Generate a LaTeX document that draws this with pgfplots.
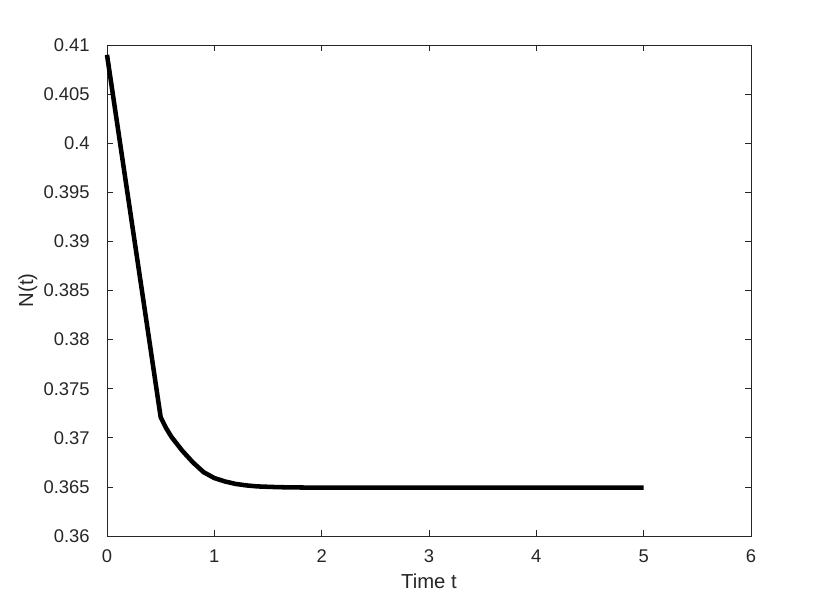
\documentclass[border=0pt]{standalone}
\usepackage{pgfplots}
\pgfplotsset{compat=1.18}
\usepackage{fontspec}
\setmainfont{Liberation Sans}
\definecolor{axgray}{gray}{0.15}
\begin{document}
\begin{tikzpicture}[x=1pt,y=1pt]
\begin{axis}[
  scale only axis,
  width=483pt, height=368.25pt,
  xmin=0, xmax=6, ymin=0.36, ymax=0.41,
  xtick={0,1,2,3,4,5,6},
  ytick={0.36,0.365,0.37,0.375,0.38,0.385,0.39,0.395,0.4,0.405,0.41},
  scaled y ticks=false,
  /pgf/number format/.cd, fixed, precision=3, assume math mode=true,
  /pgfplots/.cd,
  tick align=inside,
  major tick length=4.5pt,
  axis line style={axgray, line width=0.5pt},
  tick style={axgray, line width=0.5pt},
  ticklabel style={text=axgray, font=\fontsize{13.8pt}{16pt}\selectfont},
  yticklabel style={xshift=-9.5pt},
  xticklabel style={yshift=-6.5pt},
  label style={text=axgray, font=\fontsize{15.2pt}{17pt}\selectfont},
  xlabel={Time t},
  ylabel={N(t)},
  xlabel style={at={(axis description cs:0.5,0)}, anchor=base, yshift=-39pt},
  ylabel style={at={(axis description cs:0,0.5)}, anchor=center, yshift=59.25pt},
  clip=false,
]
\addplot[black, line width=3.4pt, line join=round] coordinates {
(0,0.4090) (0.5,0.3721) (0.55,0.3710) (0.6,0.3701) (0.7,0.3687) (0.8,0.3675)
(0.9,0.3665) (1.0,0.3659) (1.1,0.36555) (1.2,0.3653) (1.3,0.36515) (1.4,0.36505)
(1.6,0.36497) (1.8,0.36494) (2.0,0.36492) (3.0,0.36492) (4.0,0.36492) (5.0,0.36492)
};
\coordinate (sw) at (rel axis cs:0,0);
\coordinate (ne) at (rel axis cs:1,1);
\end{axis}
\pgfresetboundingbox
\path ([xshift=-80.25pt,yshift=-49.5pt]sw) rectangle ([xshift=59.25pt,yshift=33.75pt]ne);
\end{tikzpicture}
\end{document}
